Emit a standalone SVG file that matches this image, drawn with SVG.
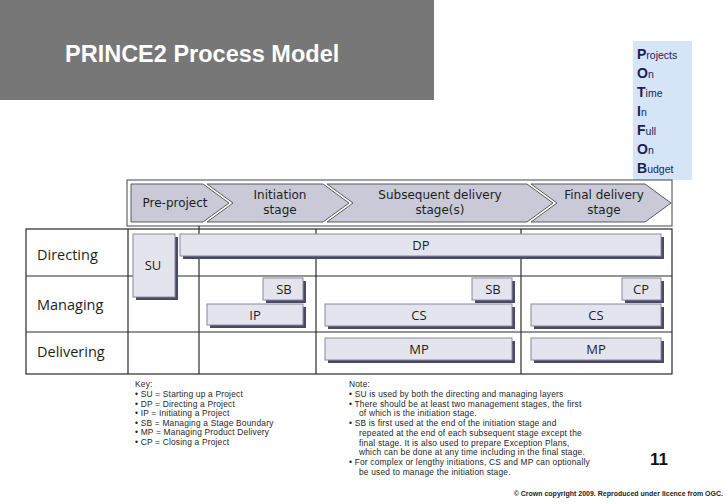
<svg xmlns="http://www.w3.org/2000/svg" width="728" height="504" viewBox="0 0 728 504">
<defs>
<style>
.t{font-family:"Open Sans","DejaVu Sans",sans-serif;fill:#1e1e1e}
.lbl{font-size:14.5px}
.hd{font-family:"DejaVu Sans","Open Sans",sans-serif;font-size:12px;text-anchor:middle;fill:#1e1e1e}
.pl{font-size:13px;text-anchor:middle}
.sm{font-family:"Liberation Sans",Arial,sans-serif;font-size:8.4px;letter-spacing:0.2px;fill:#1e1e1e}
.chev{fill:#c9c9d8;stroke:#5a5a5a;stroke-width:1}
.box{fill:#e4e4ef;stroke:#8a8a9a;stroke-width:1}
.sh{fill:#4a4868}
.grid{stroke:#2a2a2a;stroke-width:1.2;fill:none}
.pb{font-family:"Liberation Sans",Arial,sans-serif;fill:#1c1c5a}
</style>
</defs>
<rect width="728" height="504" fill="#ffffff"/>
<g id="title">
<rect x="0" y="0" width="434" height="100" fill="#777777"/>
<text x="65" y="62" font-family="Liberation Sans, Arial, sans-serif" font-weight="bold" font-size="23.5" fill="#ffffff">PRINCE2 Process Model</text>
</g>
<g id="potifob">
<rect x="633" y="41" width="59" height="139" fill="#d5e5f7"/>
<text class="pb" x="637" y="59"><tspan font-size="14" font-weight="bold">P</tspan><tspan font-size="10.5">rojects</tspan></text>
<text class="pb" x="637" y="78"><tspan font-size="14" font-weight="bold">O</tspan><tspan font-size="10.5">n</tspan></text>
<text class="pb" x="637" y="97"><tspan font-size="14" font-weight="bold">T</tspan><tspan font-size="10.5">ime</tspan></text>
<text class="pb" x="637" y="116"><tspan font-size="14" font-weight="bold">I</tspan><tspan font-size="10.5">n</tspan></text>
<text class="pb" x="637" y="135"><tspan font-size="14" font-weight="bold">F</tspan><tspan font-size="10.5">ull</tspan></text>
<text class="pb" x="637" y="154"><tspan font-size="14" font-weight="bold">O</tspan><tspan font-size="10.5">n</tspan></text>
<text class="pb" x="637" y="173"><tspan font-size="14" font-weight="bold">B</tspan><tspan font-size="10.5">udget</tspan></text>
</g>
<g id="header">
<rect x="127" y="180" width="545" height="46" fill="#ffffff" stroke="#444" stroke-width="1"/>
<polygon class="chev" points="131,184 203,184 229,203 203,222 131,222"/>
<polygon class="chev" points="207,184 323,184 349,203 323,222 207,222 233,203"/>
<polygon class="chev" points="327,184 527,184 553,203 527,222 327,222 353,203"/>
<polygon class="chev" points="531,184 645,184 671,203 645,222 531,222 557,203"/>
<text class="hd" x="175" y="207">Pre-project</text>
<text class="hd" x="280" y="199">Initiation</text>
<text class="hd" x="280" y="214">stage</text>
<text class="hd" x="440" y="199">Subsequent delivery</text>
<text class="hd" x="440" y="214">stage(s)</text>
<text class="hd" x="604" y="199">Final delivery</text>
<text class="hd" x="604" y="214">stage</text>
</g>
<g id="grid">
<rect class="grid" x="26" y="229" width="646" height="145"/>
<line class="grid" x1="26" y1="276" x2="672" y2="276"/>
<line class="grid" x1="26" y1="332" x2="672" y2="332"/>
<line class="grid" x1="128" y1="229" x2="128" y2="374"/>
<line class="grid" x1="199" y1="226" x2="199" y2="374"/>
<line class="grid" x1="316" y1="229" x2="316" y2="374"/>
<line class="grid" x1="521" y1="229" x2="521" y2="374"/>
<text class="t lbl" x="37" y="260">Directing</text>
<text class="t lbl" x="37" y="310">Managing</text>
<text class="t lbl" x="37" y="357">Delivering</text>
</g>
<g id="SU">
<rect class="sh" x="136" y="237" width="42" height="63"/>
<rect class="box" x="133" y="234" width="42" height="63"/>
<text class="t pl" x="153" y="270">SU</text>
</g>
<g id="DP">
<rect class="sh" x="183" y="237" width="481" height="22"/>
<rect class="box" x="180" y="234" width="481" height="22"/>
<text class="t pl" x="421" y="249.5">DP</text>
</g>
<g id="SB1">
<rect class="sh" x="266" y="281" width="40" height="22"/>
<rect class="box" x="263" y="278" width="40" height="22"/>
<text class="t pl" x="284" y="293.5">SB</text>
</g>
<g id="IP">
<rect class="sh" x="210" y="307" width="96" height="21"/>
<rect class="box" x="207" y="304" width="96" height="21"/>
<text class="t pl" x="255" y="319.5">IP</text>
</g>
<g id="SB2">
<rect class="sh" x="475" y="281" width="40" height="22"/>
<rect class="box" x="472" y="278" width="40" height="22"/>
<text class="t pl" x="493" y="293.5">SB</text>
</g>
<g id="CS1">
<rect class="sh" x="328" y="307" width="187" height="22"/>
<rect class="box" x="325" y="304" width="187" height="22"/>
<text class="t pl" x="419" y="319.5">CS</text>
</g>
<g id="CP">
<rect class="sh" x="625" y="281" width="39" height="22"/>
<rect class="box" x="622" y="278" width="39" height="22"/>
<text class="t pl" x="641" y="293.5">CP</text>
</g>
<g id="CS2">
<rect class="sh" x="534" y="307" width="130" height="22"/>
<rect class="box" x="531" y="304" width="130" height="22"/>
<text class="t pl" x="596" y="319.5">CS</text>
</g>
<g id="MP1">
<rect class="sh" x="328" y="341" width="187" height="22"/>
<rect class="box" x="325" y="338" width="187" height="22"/>
<text class="t pl" x="419" y="353.5">MP</text>
</g>
<g id="MP2">
<rect class="sh" x="534" y="341" width="130" height="22"/>
<rect class="box" x="531" y="338" width="130" height="22"/>
<text class="t pl" x="596" y="353.5">MP</text>
</g>
<g id="key">
<text class="sm" x="135" y="387">Key:</text>
<text class="sm" x="135" y="397">• SU = Starting up a Project</text>
<text class="sm" x="135" y="406.5">• DP = Directing a Project</text>
<text class="sm" x="135" y="416">• IP = Initiating a Project</text>
<text class="sm" x="135" y="425.5">• SB = Managing a Stage Boundary</text>
<text class="sm" x="135" y="435">• MP = Managing Product Delivery</text>
<text class="sm" x="135" y="444.5">• CP = Closing a Project</text>
</g>
<g id="note">
<text class="sm" x="349" y="387">Note:</text>
<text class="sm" x="349" y="397">• SU is used by both the directing and managing layers</text>
<text class="sm" x="349" y="406.7">• There should be at least two management stages, the first</text>
<text class="sm" x="359" y="416.4">of which is the initiation stage.</text>
<text class="sm" x="349" y="426.1">• SB is first used at the end of the initiation stage and</text>
<text class="sm" x="359" y="435.8">repeated at the end of each subsequent stage except the</text>
<text class="sm" x="359" y="445.5">final stage. It is also used to prepare Exception Plans,</text>
<text class="sm" x="359" y="455.2">which can be done at any time including in the final stage.</text>
<text class="sm" x="349" y="464.9">• For complex or lengthy initiations, CS and MP can optionally</text>
<text class="sm" x="359" y="474.6">be used to manage the initiation stage.</text>
</g>
<g id="footer">
<text x="668" y="465" font-family="Liberation Sans, Arial, sans-serif" font-weight="bold" font-size="17" fill="#111" text-anchor="end">11</text>
<text x="723" y="496" font-family="Liberation Sans, Arial, sans-serif" font-weight="bold" font-size="7" fill="#222" text-anchor="end">© Crown copyright 2009. Reproduced under licence from OGC.</text>
</g>
</svg>
